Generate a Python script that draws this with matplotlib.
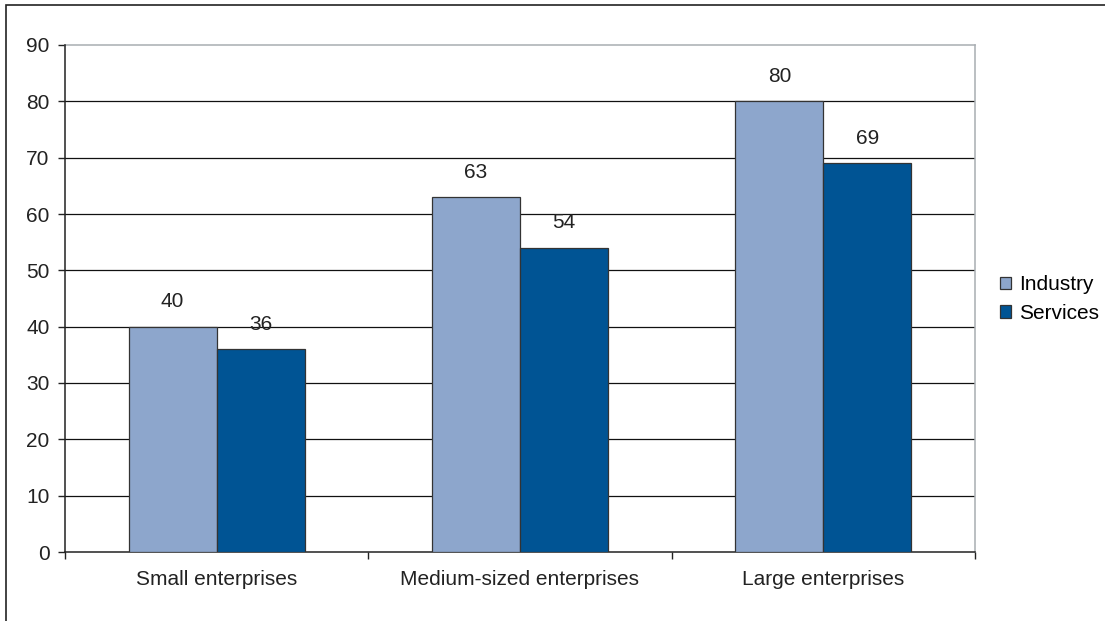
import matplotlib
matplotlib.use("Agg")
import matplotlib.pyplot as plt
import numpy as np
from matplotlib.patches import Rectangle

categories = ["Small enterprises", "Medium-sized enterprises", "Large enterprises"]
industry = [40, 63, 80]
services = [36, 54, 69]
yticks = [0, 10, 20, 30, 40, 50, 60, 70, 80, 90]

plt.rcParams['font.family'] = ['Liberation Sans', 'DejaVu Sans']
FS = 15

fig = plt.figure(figsize=(11.05, 6.21), dpi=100)
ax = fig.add_axes([65/1105, 1-552/621, (975-65)/1105, (552-45)/621])

# outer border
fig.patches.append(Rectangle((6/1105, -0.1), 1.2, (1-5/621)+0.1, transform=fig.transFigure,
                             fill=False, edgecolor='#222222', linewidth=1.2))

x = np.arange(len(categories))
w = 0.29
c_ind = '#8DA6CC'
c_srv = '#005494'
for yv in yticks[1:-1]:
    ax.axhline(yv, color='#111111', linewidth=0.9, zorder=1)
b1 = ax.bar(x - w/2, industry, w, color=c_ind, edgecolor='#333333', linewidth=0.9, zorder=3, label='Industry')
b2 = ax.bar(x + w/2, services, w, color=c_srv, edgecolor='#333333', linewidth=0.9, zorder=3, label='Services')
for bars, vals in ((b1, industry), (b2, services)):
    for r, v in zip(bars, vals):
        ax.annotate(str(v), (r.get_x() + r.get_width()/2, v), xytext=(0, 18),
                    textcoords='offset points', ha='center', va='center', fontsize=FS, color='#222222')

ax.set_xlim(-0.5, 2.5)
ax.set_ylim(0, 90)
ax.set_yticks(yticks)
ax.set_yticklabels([str(t) for t in yticks], fontsize=FS, color='#222222')
ax.set_xticks([-0.5, 0.5, 1.5, 2.5])
ax.set_xticklabels([])
ax.set_xticks(x, minor=True)
ax.set_xticklabels(categories, minor=True, fontsize=FS, color='#222222')
ax.tick_params(axis='x', which='minor', length=0, pad=13)
ax.tick_params(axis='x', which='major', length=5, width=1, color='#222222', direction='out')
ax.tick_params(axis='y', length=5, width=1, color='#222222', direction='out', pad=6)
ax.spines['left'].set_color('#222222')
ax.spines['bottom'].set_color('#222222')
ax.spines['top'].set_color('#A8ADB2')
ax.spines['right'].set_color('#A8ADB2')
for s in ax.spines.values():
    s.set_linewidth(1.1)
ax.spines['left'].set_zorder(4)

leg = fig.legend(handles=[b1, b2], labels=['Industry', 'Services'], loc='center left',
                 bbox_to_anchor=(1000/1105, 1-299/621), frameon=False, fontsize=FS,
                 handlelength=0.55, handleheight=0.55, handletextpad=0.35, labelspacing=0.45,
                 borderaxespad=0, borderpad=0)
fig.savefig('out.png', dpi=100)
